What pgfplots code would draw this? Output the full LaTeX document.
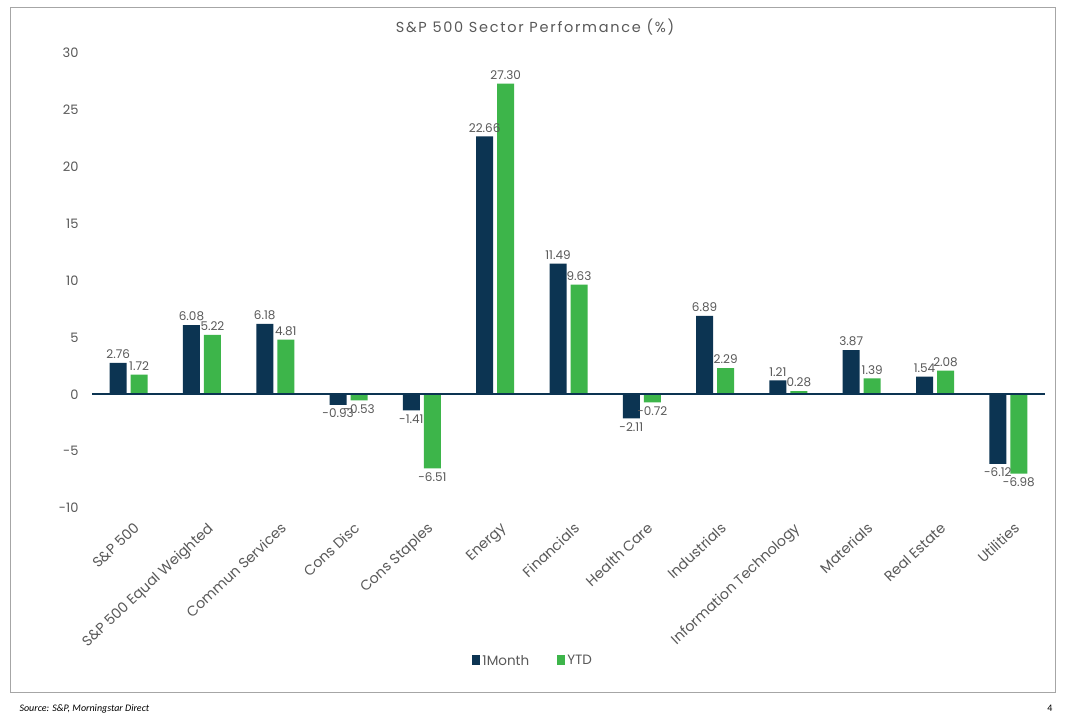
\documentclass[border=0pt]{standalone}
\usepackage{pgfplots}
\pgfplotsset{compat=1.18}
\usepackage{fontspec}
\setmainfont{Poppins}
\newfontfamily\titlefont[LetterSpace=12]{Poppins}
\newfontfamily\srcfont{Carlito}
\definecolor{navy}{HTML}{0C3452}
\definecolor{grn}{HTML}{3DB54A}
\definecolor{txt}{HTML}{595959}
\begin{document}
\begin{tikzpicture}[x=1pt,y=1pt]
\useasboundingbox[fill=white] (0pt,0pt) rectangle (1068pt,723pt);
\draw[color=gray!70, line width=1pt] (10pt,31pt) rectangle (1055pt,715pt);
\node[txt, font=\titlefont\fontsize{14.5}{16}\selectfont] at (535pt,696pt) {S\&P 500 Sector Performance (\%)};
\begin{axis}[
  at={(92pt,215pt)}, anchor=south west,
  scale only axis, width=953pt, height=455pt,
  ybar=4pt, bar width=17pt,
  xmin=-0.5, xmax=12.5, ymin=-10, ymax=30,
  ytick={-10,-5,0,5,10,15,20,25,30},
  xtick=data,
  xticklabels={S\&P 500, S\&P 500 Equal Weighted, Commun Services, Cons Disc, Cons Staples, Energy, Financials, Health Care, Industrials, Information Technology, Materials, Real Estate, Utilities},
  axis line style={draw=none},
  major tick length=0pt,
  tick label style={txt, font=\fontsize{13}{15}\selectfont},
  /pgf/number format/assume math mode=true,
  yticklabel style={xshift=-10pt},
  xticklabel style={rotate=43, anchor=north east, inner sep=1pt, yshift=-12pt, xshift=-5pt, font=\fontsize{14.2}{16}\selectfont},
  nodes near coords,
  nodes near coords style={txt, inner sep=4pt, font=\fontsize{12}{14}\selectfont, /pgf/number format/.cd, fixed, fixed zerofill, precision=2, assume math mode=true},
  legend style={draw=none, at={(0.463,-0.336)}, anchor=center, legend columns=2, font=\fontsize{13.5}{15}\selectfont, text=txt, /tikz/every even column/.append style={column sep=26pt}},
  legend image code/.code={\fill[#1] (0pt,-4pt) rectangle (8pt,6pt);},
  clip=false,
]
\addplot[draw=none, fill=navy] coordinates {(0,2.76) (1,6.08) (2,6.18) (3,-0.93) (4,-1.41) (5,22.66) (6,11.49) (7,-2.11) (8,6.89) (9,1.21) (10,3.87) (11,1.54) (12,-6.12)};
\addplot[draw=none, fill=grn] coordinates {(0,1.72) (1,5.22) (2,4.81) (3,-0.53) (4,-6.51) (5,27.30) (6,9.63) (7,-0.72) (8,2.29) (9,0.28) (10,1.39) (11,2.08) (12,-6.98)};
\legend{1Month, YTD}
\draw[navy, line width=1.5pt] (axis cs:-0.5,0) -- (axis cs:12.5,0);
\end{axis}
\node[anchor=west, font=\srcfont\itshape\fontsize{10}{12}\selectfont] at (16pt,14pt) {Source: S\&P, Morningstar Direct};
\node[font=\srcfont\fontsize{10}{12}\selectfont] at (1050pt,15pt) {4};
\end{tikzpicture}
\end{document}
